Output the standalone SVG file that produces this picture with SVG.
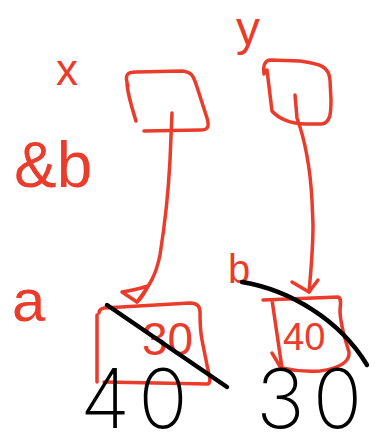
<svg xmlns="http://www.w3.org/2000/svg" width="376" height="438" viewBox="0 0 376 438">
<style>
.r{fill:none;stroke:#ea3b2b;stroke-width:3.5;stroke-linecap:round;stroke-linejoin:round}
.k{fill:none;stroke:#000;stroke-width:4.5;stroke-linecap:round}
.rt{fill:#ea3b2b;font-family:"Liberation Sans",Arial,sans-serif}
.kt{fill:#000;font-family:Inter,"DejaVu Sans",sans-serif;font-weight:200;letter-spacing:8px}
</style>
<rect width="376" height="438" fill="#fff"/>
<g id="labels">
<text class="rt" x="56" y="85" font-size="44">x</text>
<text class="rt" x="236" y="45" font-size="48">y</text>
<text class="rt" x="14" y="187" font-size="64">&amp;b</text>
<text class="rt" x="12" y="321" font-size="60">a</text>
<text class="rt" x="228" y="283" font-size="40">b</text>
</g>
<g id="node-x">
<path class="r" d="M136,121 C132,108 128,96 127,84 M128,86 C124,74 128,72 136,72 L182,71 C192,72 193,76 196,84 L207,118 C210,128 207,130 200,130 L144,131"/>
</g>
<g id="node-y">
<path class="r" d="M267,70 L272,111 C278,118 290,124 306,124 L322,124 C330,122 331,115 331,100 L330,80 C329,66 320,64 300,61 L270,60 C264,61 263,66 264,74"/>
</g>
<g id="node-a">
<path class="r" d="M97,315 L97,382 M104,382 L208,384 C211,382 210,378 208,370 L202,340 C200,330 200,320 200,312 C200,305 195,303 190,303 L104,308 C100,309 99,311 99,313"/>
<text class="rt" x="142" y="355" font-size="46">30</text>
</g>
<g id="node-b">
<path class="r" d="M263,300 L338,297 C341,298 341,302 340,310 C340,320 342,330 349,352 C350,362 340,368 320,371 C305,372 295,371 282,368 L272,300 M272,353 L281,368"/>
<text class="rt" x="283" y="350" font-size="38">40</text>
</g>
<g id="connectors">
<path class="r" d="M172,113 L170,160 C168,200 164,230 160,255 C156,275 150,285 137,302"/>
<path class="r" d="M137,302 L122,292 C132,290 140,289 148,286 C144,294 140,300 137,302 Z"/>
<path class="r" d="M295,95 L297,118 C305,140 310,165 312,200 L313,225 C313,250 311,270 309,292"/>
<path class="r" d="M292,282 L309,292 L318,280"/>
</g>
<g id="overlay">
<path class="k" d="M107,305 L227,387"/>
<path class="k" d="M242,282 C290,290 340,320 367,365"/>
<text class="kt" x="80" y="428" font-size="82">40</text>
<text class="kt" x="256" y="428" font-size="82">30</text>
</g>
</svg>
